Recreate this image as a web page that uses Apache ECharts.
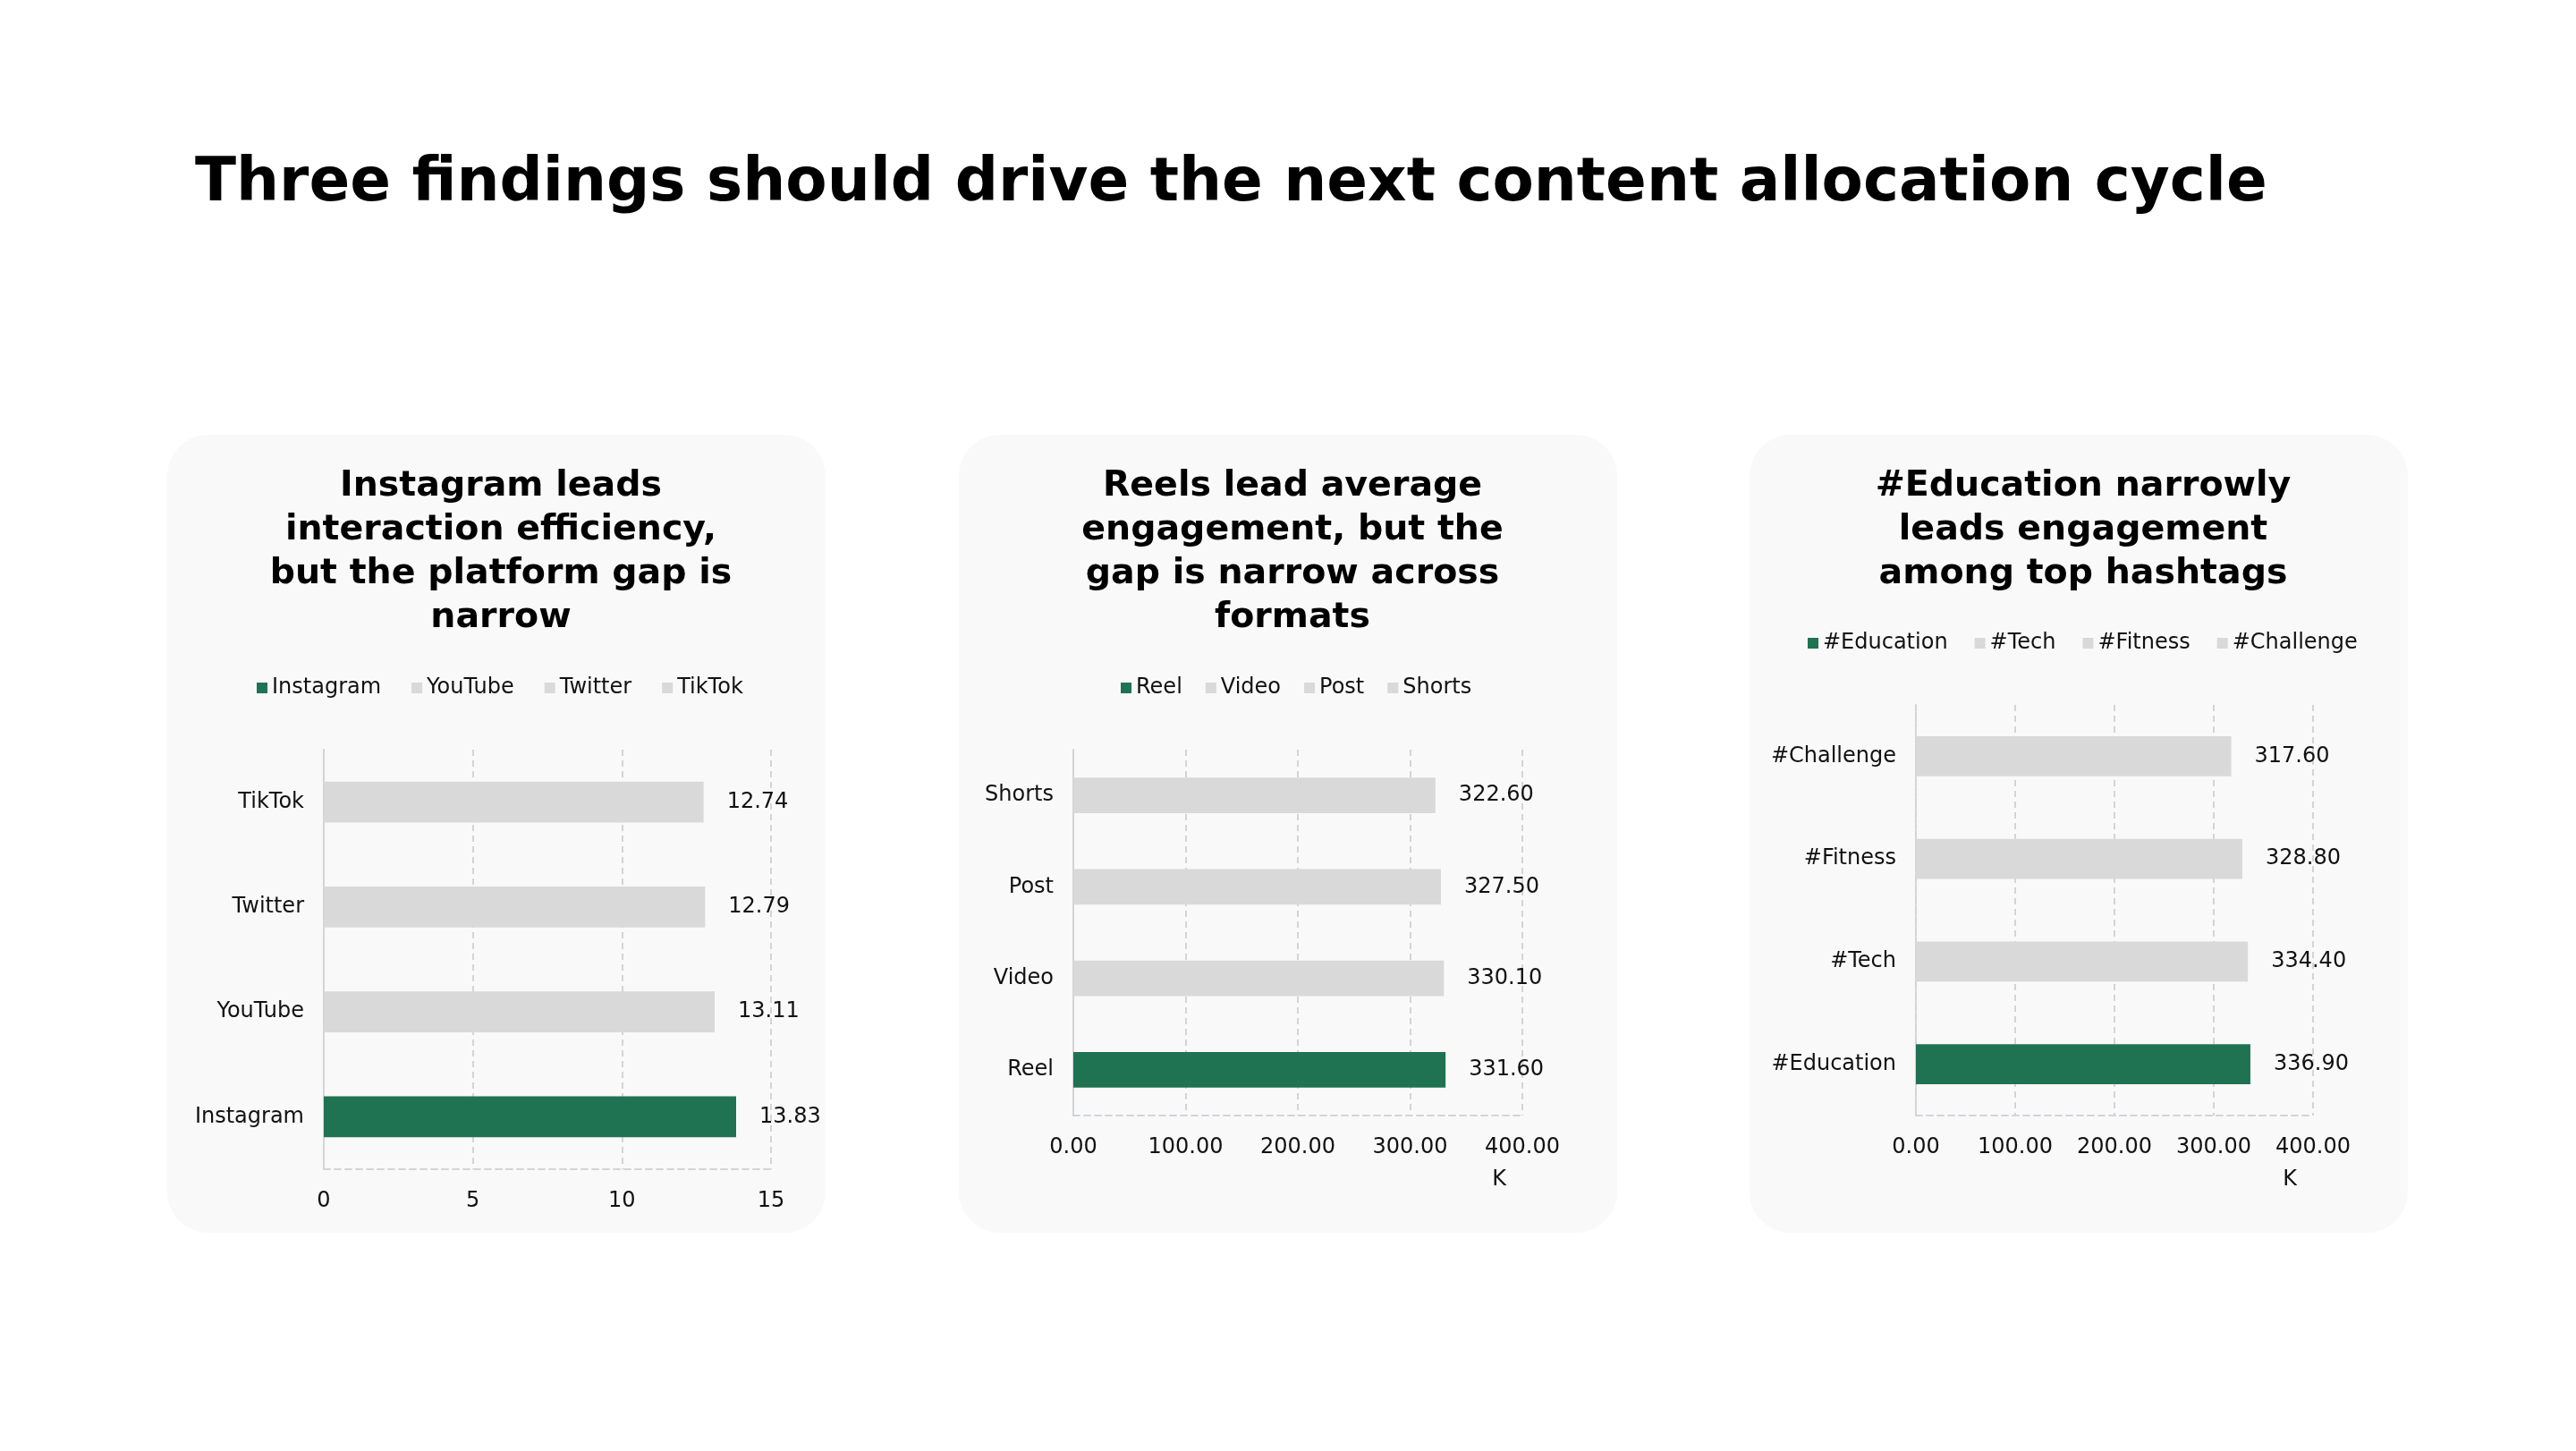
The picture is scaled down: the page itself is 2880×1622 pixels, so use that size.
<!DOCTYPE html>
<html>
<head>
<meta charset="utf-8">
<script src="https://cdn.jsdelivr.net/npm/echarts@6/dist/echarts.min.js"></script>
<style>
  html, body, #main { width: 100%; height: 100%; margin: 0; background: #fff; }
</style>
</head>
<body>
<div id="main"></div>
<script>
var pageTitle = 'Three findings should drive the next content allocation cycle';

// panel 1 - interaction efficiency by platform
var platforms = ['Instagram', 'YouTube', 'Twitter', 'TikTok'];
var platformRate = [13.83, 13.11, 12.79, 12.74];
var platformTitle = 'Instagram leads\ninteraction efficiency,\nbut the platform gap is\nnarrow';

// panel 2 - average engagement by format (K)
var formats = ['Reel', 'Video', 'Post', 'Shorts'];
var formatEngagement = [331.6, 330.1, 327.5, 322.6];
var formatTitle = 'Reels lead average\nengagement, but the\ngap is narrow across\nformats';

// panel 3 - engagement by hashtag (K)
var hashtags = ['#Education', '#Tech', '#Fitness', '#Challenge'];
var hashtagEngagement = [336.9, 334.4, 328.8, 317.6];
var hashtagTitle = '#Education narrowly\nleads engagement\namong top hashtags';

var FONT = 'DejaVu Sans';
var GREEN = '#1f7352';
var GREY = '#d9d9d9';
var GRIDC = '#d2d4d8';

var panelX = [187, 1072, 1956];
var panelY = 486, panelW = 736, panelH = 892;

var chart = echarts.init(document.getElementById('main'));

var option = {
  backgroundColor: '#ffffff',
  animation: false,
  textStyle: { fontFamily: FONT },
  title: [],
  legend: [],
  grid: [],
  xAxis: [],
  yAxis: [],
  series: [],
  graphic: []
};

option.title.push({
  text: pageTitle,
  left: 213, top: 166,
  textStyle: { fontFamily: FONT, fontWeight: 'bold', fontSize: 67.5, lineHeight: 70, color: '#000' }
});

panelX.forEach(function (x) {
  option.graphic.push({
    type: 'rect', z: -10,
    shape: { x: x, y: panelY, width: panelW, height: panelH, r: 46 },
    style: { fill: '#f9f9f9' }
  });
});

function addPanel(i, cats, vals, title, conf) {
  option.title.push({
    text: title,
    left: panelX[i] + panelW / 2, top: 514,
    textAlign: 'center',
    textStyle: { fontFamily: FONT, fontWeight: 'bold', fontSize: 39.5, lineHeight: 49, color: '#000' }
  });
  option.legend.push({
    data: cats,
    left: conf.legendLeft, top: conf.legendTop,
    icon: 'rect', itemWidth: 12, itemHeight: 12, itemGap: conf.legendGap,
    textStyle: { fontFamily: FONT, fontSize: 24, color: '#111' }
  });
  option.grid.push({ left: conf.grid[0], top: conf.grid[1], width: conf.grid[2], height: conf.grid[3] });
  var dash = { color: GRIDC, width: 2, type: [7, 5] };
  option.xAxis.push({
    type: 'value', gridIndex: i,
    min: 0, max: conf.max, interval: conf.interval,
    name: conf.unit || '',
    nameLocation: 'end', nameGap: -26,
    nameTextStyle: { fontFamily: FONT, fontSize: 24, color: '#111', align: 'center', verticalAlign: 'top', padding: [60, 0, 0, 0] },
    axisLine: { show: true, lineStyle: dash },
    axisTick: { show: false },
    splitLine: { show: true, lineStyle: dash },
    axisLabel: {
      margin: 24, fontFamily: FONT, fontSize: 24, color: '#111',
      formatter: function (v) { return conf.decimals ? v.toFixed(2) : String(v); }
    }
  });
  option.yAxis.push({
    type: 'category', gridIndex: i, data: cats,
    axisLine: { show: true, lineStyle: dash },
    axisTick: { show: false },
    axisLabel: { margin: 22, fontFamily: FONT, fontSize: 24, color: '#111' }
  });
  cats.forEach(function (name, j) {
    option.series.push({
      type: 'bar', name: name,
      xAxisIndex: i, yAxisIndex: i,
      stack: 'p' + i,
      barWidth: '39%',
      itemStyle: { color: j === 0 ? GREEN : GREY },
      label: {
        show: true, position: 'right', distance: 26,
        fontFamily: FONT, fontSize: 24, color: '#111',
        formatter: function (p) { return Number(p.value).toFixed(2); }
      },
      data: cats.map(function (c, k) { return k === j ? vals[j] : '-'; })
    });
  });
}

addPanel(0, platforms, platformRate, platformTitle, {
  grid: [362, 838, 500, 469], max: 15, interval: 5, decimals: false,
  legendLeft: 282, legendTop: 752, legendGap: 34
});
addPanel(1, formats, formatEngagement, formatTitle, {
  grid: [1200, 838, 502, 409], max: 400, interval: 100, decimals: true, unit: 'K',
  legendLeft: 1248, legendTop: 752, legendGap: 26
});
addPanel(2, hashtags, hashtagEngagement, hashtagTitle, {
  grid: [2142, 788, 444, 459], max: 400, interval: 100, decimals: true, unit: 'K',
  legendLeft: 2016, legendTop: 702, legendGap: 30
});

chart.setOption(option);
window.onresize = chart.resize;
</script>
</body>
</html>
